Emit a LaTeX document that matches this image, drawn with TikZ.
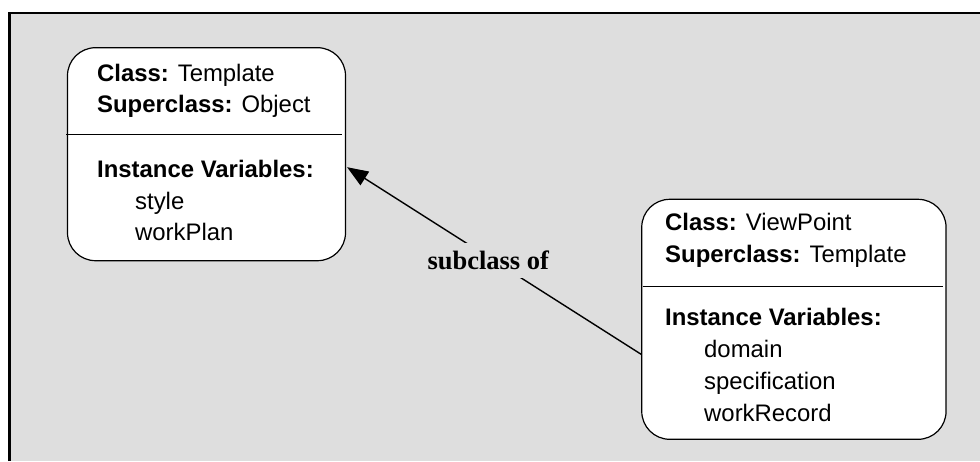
\documentclass[tikz,border=0pt]{standalone}
\usepackage{fontspec}
\setmainfont{Liberation Sans}
\newfontfamily\serifbold{Liberation Serif}
\usetikzlibrary{arrows.meta}
\definecolor{bgray}{RGB}{222,222,222}
\tikzset{
  classbox/.style={draw=black, fill=white, line width=1.2pt, rounded corners=28pt, inner sep=0pt},
  divider/.style={draw=black, line width=1.3pt},
  txt/.style={anchor=base west, inner sep=0pt, font=\fontsize{23.9}{31}\selectfont},
  arrowline/.style={draw=black, line width=1.4pt, -{Triangle[length=21pt,width=16pt]}},
  lbl/.style={fill=bgray, inner xsep=3pt, inner ysep=8pt, font=\fontsize{26.5}{30}\selectfont\serifbold\bfseries}
}
\begin{document}
\begin{tikzpicture}[x=1pt,y=-1pt]
\path[use as bounding box, fill=white] (0,0) rectangle (980,461);
\fill[bgray] (9.3,13) rectangle (980,461);
\draw[line width=2.7pt] (9.3,461) -- (9.3,13) -- (980,13);

% left class box
\node[classbox, minimum width=278pt, minimum height=213pt] (tpl) at (206.5,154.2) {};
\coordinate (tplL) at (66,134.3);
\coordinate (tplR) at (342,134.3);
\draw[divider] (tplL) -- (tplR);
\node[txt] (t1) at (97,81) {\textbf{Class:} Template};
\node[txt] (t2) at (97,112) {\textbf{Superclass:} Object};
\node[txt] (t3) at (97,177.5) {\textbf{Instance Variables:}};
\node[txt] (t4) at (135,209) {style};
\node[txt] (t5) at (135,240.5) {workPlan};

% right class box
\node[classbox, minimum width=304.3pt, minimum height=240pt] (vp) at (793.9,319.3) {};
\coordinate (vpL) at (642.7,286.7);
\coordinate (vpR) at (942.7,286.7);
\draw[divider] (vpL) -- (vpR);
\node[txt] (v1) at (665,230) {\textbf{Class:} ViewPoint};
\node[txt] (v2) at (665,262) {\textbf{Superclass:} Template};
\node[txt] (v3) at (665,325) {\textbf{Instance Variables:}};
\node[txt] (v4) at (704,357) {domain};
\node[txt] (v5) at (704,389) {specification};
\node[txt] (v6) at (704,421) {workRecord};

% subclass arrow
\coordinate (from) at ([yshift=-35pt]vp.west);
\coordinate (to) at ([yshift=-13pt,xshift=1pt]tpl.east);
\draw[arrowline] (from) -- node[lbl, pos=0.52, yshift=-3pt] (lab) {subclass of} (to);
\end{tikzpicture}
\end{document}
